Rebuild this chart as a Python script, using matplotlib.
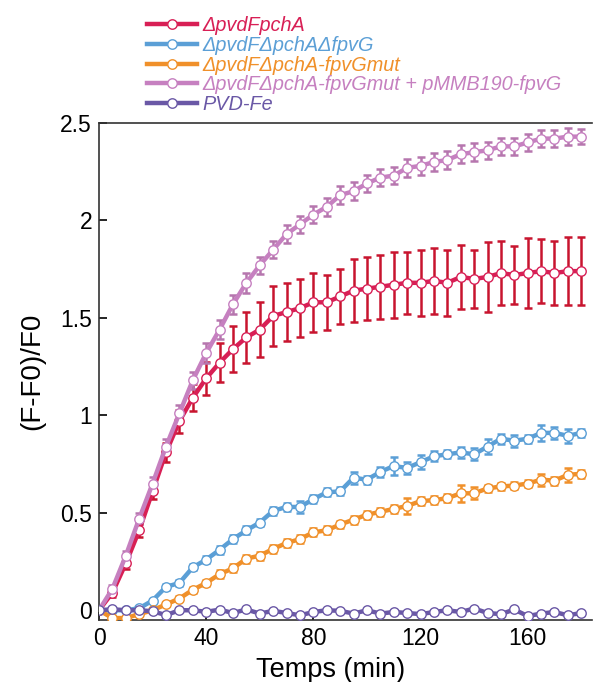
import numpy as np
import matplotlib
matplotlib.use("Agg")
import matplotlib.pyplot as plt

plt.rcParams['font.family'] = ['Liberation Sans', 'DejaVu Sans']

# sampling times (min)
time_min = np.arange(0, 181, 5)

labels = [
    "\u0394pvdFpchA",
    "\u0394pvdF\u0394pchA\u0394fpvG",
    "\u0394pvdF\u0394pchA-fpvGmut",
    "\u0394pvdF\u0394pchA-fpvGmut + pMMB190-fpvG",
    "PVD-Fe",
]

pvdF_pchA = [0, .09, .24, .41, .61, .81, .97, 1.09, 1.19, 1.27,
             1.34, 1.40, 1.44, 1.51, 1.53, 1.55, 1.58, 1.58, 1.61, 1.64,
             1.65, 1.66, 1.67, 1.68, 1.68, 1.69, 1.68, 1.71, 1.70, 1.71,
             1.73, 1.72, 1.73, 1.74, 1.73, 1.74, 1.74]
pvdF_pchA_err = [0, .02, .03, .035, .04, .05, .06, .07, .085, .10,
                 .12, .13, .14, .155, .15, .15, .15, .14, .14, .16,
                 .16, .165, .17, .16, .17, .17, .17, .165, .15, .18,
                 .165, .15, .18, .165, .165, .175, .175]

fpvG_del = [0, 0, 0, .01, .05, .12, .14, .22, .26, .31,
            .365, .41, .45, .51, .53, .53, .57, .605, .61, .68,
            .67, .71, .74, .73, .76, .79, .80, .81, .80, .84,
            .88, .87, .88, .91, .91, .895, .91]
fpvG_del_err = [0, .005, .005, .01, .01, .015, .015, .015, .02, .02,
                .02, .02, .02, .02, .02, .03, .02, .02, .02, .03,
                .02, .025, .045, .03, .035, .025, .02, .03, .03, .04,
                .025, .03, .02, .04, .03, .035, .02]

fpvG_mut = [0, -.04, -.04, -.02, 0, .03, .06, .105, .14, .185,
            .215, .265, .28, .315, .345, .365, .40, .41, .44, .465,
            .49, .505, .52, .535, .56, .565, .575, .60, .60, .625,
            .635, .64, .65, .67, .665, .695, .70]
fpvG_mut_err = [0, .005, .005, .01, .01, .01, .015, .015, .015, .02,
                .02, .02, .02, .02, .02, .02, .02, .02, .02, .02,
                .02, .02, .02, .04, .02, .02, .02, .045, .03, .02,
                .02, .02, .02, .03, .02, .035, .02]

fpvG_comp = [0, .11, .28, .47, .65, .84, 1.01, 1.18, 1.32, 1.44,
             1.57, 1.68, 1.77, 1.85, 1.93, 1.98, 2.03, 2.07, 2.13, 2.15,
             2.19, 2.22, 2.23, 2.27, 2.28, 2.30, 2.31, 2.34, 2.35, 2.36,
             2.38, 2.38, 2.40, 2.42, 2.42, 2.43, 2.43]
fpvG_comp_err = [0, .02, .025, .03, .035, .04, .045, .045, .05, .05,
                 .05, .05, .045, .045, .045, .045, .045, .045, .045, .045,
                 .045, .045, .045, .045, .045, .045, .045, .045, .045, .045,
                 .045, .045, .045, .045, .045, .045, .04]

pvd_fe = [0, .005, 0, 0, -.005, -.025, 0, 0, -.008, .003,
          -.014, .004, -.017, -.003, -.014, -.026, -.009, 0, -.003, -.017,
          0, -.017, -.009, -.014, -.02, -.009, 0, -.009, .009, -.014,
          -.02, .004, -.03, -.017, -.009, -.026, -.014]
pvd_fe_err = [0.008] * len(pvd_fe)

series = [
    (pvdF_pchA, pvdF_pchA_err, "#d81f55", "#c8142e"),
    (fpvG_del, fpvG_del_err, "#5b9fd6", "#5b9fd6"),
    (fpvG_mut, fpvG_mut_err, "#f0902a", "#f0902a"),
    (fpvG_comp, fpvG_comp_err, "#c680c0", "#b676ae"),
    (pvd_fe, pvd_fe_err, "#6a58a6", "#6a58a6"),
]

W, H = 593, 682
fig = plt.figure(figsize=(W / 100, H / 100), dpi=100)
ax = fig.add_axes([99 / W, 1 - 620 / H, 493 / W, (620 - 123) / H])

handles = []
for (vals, errs, col, ecol), lab in zip(series, labels):
    ax.errorbar(time_min, vals, yerr=errs, fmt='none', ecolor=ecol,
                elinewidth=1.8, capsize=3.2, capthick=1.8, zorder=2)
    h, = ax.plot(time_min, vals, '-o', color=col, lw=3.2,
                 mfc='white', mec=col, mew=1.0, ms=6.8, label=lab, zorder=3)
    handles.append(h)

ax.set_xlim(0, 184)
ax.set_ylim(-0.05, 2.5)
ax.set_xticks([0, 40, 80, 120, 160])
ax.set_yticks([0, 0.5, 1, 1.5, 2, 2.5])
ax.set_yticklabels(["0", "0.5", "1", "1.5", "2", "2.5"])
ax.tick_params(direction='in', length=6, width=1.2, labelsize=16.5, pad=5)
ax.spines['right'].set_visible(False)
for s in ['left', 'bottom', 'top']:
    ax.spines[s].set_linewidth(1.2)
    ax.spines[s].set_color('#333333')

ax.set_xlabel("Temps (min)", fontsize=19.5, labelpad=5)
ax.xaxis.label.set_x(0.469)
ax.set_ylabel("(F-F0)/F0", fontsize=20, labelpad=11)

leg = fig.legend(handles=handles, loc='upper left',
                 bbox_to_anchor=(147 / W, 1 - 16 / H), frameon=False,
                 prop={'size': 14.3, 'style': 'italic'},
                 handlelength=2.5, handletextpad=0.3, labelspacing=0.04,
                 borderpad=0, borderaxespad=0)
for txt, (_, _, col, _) in zip(leg.get_texts(), series):
    txt.set_color(col)

fig.savefig("out.png", dpi=100)
